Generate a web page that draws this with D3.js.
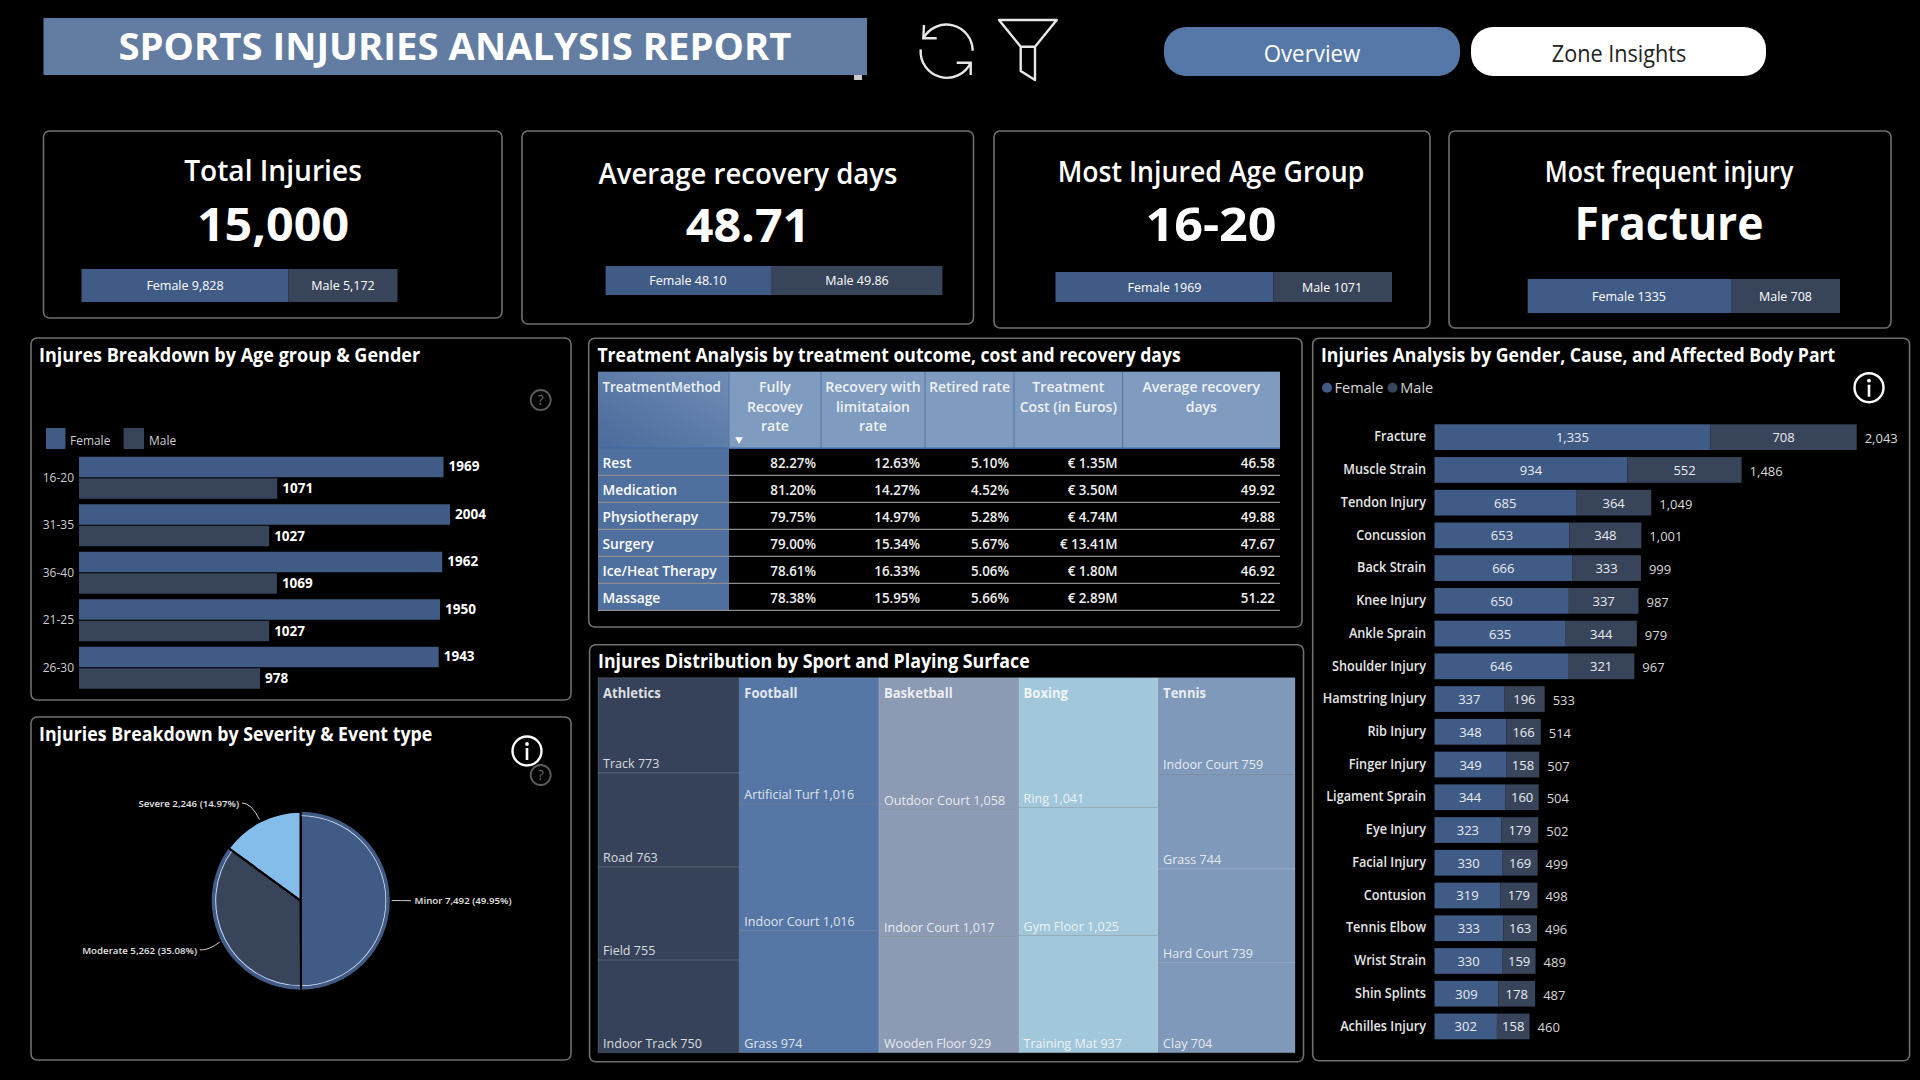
<!DOCTYPE html>
<html>
<head>
<meta charset="utf-8">
<title>Sports Injuries Analysis Report</title>
<script src="https://cdn.jsdelivr.net/npm/d3@7"></script>
<style>
html, body { margin: 0; background: #000; overflow: hidden; }
svg { display: block; }
text { font-family: "Open Sans", "Noto Sans", sans-serif; fill: #fff; }
</style>
</head>
<body>
<svg id="chart" width="1920" height="1080"></svg>
<script>
// DATA
var genders = ['Female', 'Male'];

var kpiTitles = ['Total Injuries', 'Average recovery days', 'Most Injured Age Group', 'Most frequent injury'];
var kpiValues = ['15,000', '48.71', '16-20', 'Fracture'];
var kpiFemale = [9828, 48.10, 1969, 1335];
var kpiMale = [5172, 49.86, 1071, 708];
var kpiLabelFemale = ['Female 9,828', 'Female 48.10', 'Female 1969', 'Female 1335'];
var kpiLabelMale = ['Male 5,172', 'Male 49.86', 'Male 1071', 'Male 708'];

var ageGroups = ['16-20', '31-35', '36-40', '21-25', '26-30'];
var ageFemale = [1969, 2004, 1962, 1950, 1943];
var ageMale = [1071, 1027, 1069, 1027, 978];

var severityNames = ['Minor', 'Moderate', 'Severe'];
var severityValues = [7492, 5262, 2246];
var severityShare = ['49.95%', '35.08%', '14.97%'];

var treatmentColumns = ['TreatmentMethod', 'Fully|Recovey|rate', 'Recovery with|limitataion|rate', 'Retired rate', 'Treatment|Cost (in Euros)', 'Average recovery|days'];
var treatmentMethods = ['Rest', 'Medication', 'Physiotherapy', 'Surgery', 'Ice/Heat Therapy', 'Massage'];
var fullyRecovered = [82.27, 81.20, 79.75, 79.00, 78.61, 78.38];
var limitedRecovery = [12.63, 14.27, 14.97, 15.34, 16.33, 15.95];
var retiredRate = [5.10, 4.52, 5.28, 5.67, 5.06, 5.66];
var treatmentCost = [1.35, 3.50, 4.74, 13.41, 1.80, 2.89];
var recoveryDays = [46.58, 49.92, 49.88, 47.67, 46.92, 51.22];

var sports = ['Athletics', 'Football', 'Basketball', 'Boxing', 'Tennis'];
var surfaces = [
	['Track', 'Road', 'Field', 'Indoor Track'],
	['Artificial Turf', 'Indoor Court', 'Grass'],
	['Outdoor Court', 'Indoor Court', 'Wooden Floor'],
	['Ring', 'Gym Floor', 'Training Mat'],
	['Indoor Court', 'Grass', 'Hard Court', 'Clay']
];
var surfaceValues = [
	[773, 763, 755, 750],
	[1016, 1016, 974],
	[1058, 1017, 929],
	[1041, 1025, 937],
	[759, 744, 739, 704]
];

var bodyParts = ['Fracture', 'Muscle Strain', 'Tendon Injury', 'Concussion', 'Back Strain', 'Knee Injury', 'Ankle Sprain', 'Shoulder Injury', 'Hamstring Injury', 'Rib Injury', 'Finger Injury', 'Ligament Sprain', 'Eye Injury', 'Facial Injury', 'Contusion', 'Tennis Elbow', 'Wrist Strain', 'Shin Splints', 'Achilles Injury'];
var bodyFemale = [1335, 934, 685, 653, 666, 650, 635, 646, 337, 348, 349, 344, 323, 330, 319, 333, 330, 309, 302];
var bodyMale = [708, 552, 364, 348, 333, 337, 344, 321, 196, 166, 158, 160, 179, 169, 179, 163, 159, 178, 158];

// COLOURS
var FEMALE = '#415b87';
var MALE = '#38445a';
var BORDER = '#6f6f6f';
var sportColors = ['#364259', '#5677a6', '#8c9ab4', '#a2c6da', '#7f99bb'];

var svg = d3.select('#chart');
var fmtInt = d3.format(',');

// the report font is narrower than anything installed - squeeze text sideways
function fit(sel, k) {
	sel.each(function () {
		var len = this.getComputedTextLength();
		d3.select(this).attr('textLength', len * k).attr('lengthAdjust', 'spacingAndGlyphs');
	});
	return sel;
}

function panel(x, y, x2, y2) {
	svg.append('rect')
		.attr('x', x).attr('y', y)
		.attr('width', x2 - x).attr('height', y2 - y)
		.attr('rx', 6)
		.attr('fill', '#000')
		.attr('stroke', BORDER)
		.attr('stroke-width', 1.6);
}

function panelTitle(txt, x, y, k) {
	fit(svg.append('text')
		.attr('x', x).attr('y', y)
		.attr('font-size', 19.5)
		.attr('font-weight', 700)
		.text(txt), k);
}

function helpIcon(cx, cy) {
	var g = svg.append('g').attr('transform', 'translate(' + cx + ',' + cy + ')');
	g.append('circle').attr('r', 10).attr('fill', 'none').attr('stroke', '#5c5c5c').attr('stroke-width', 1.8);
	g.append('text').attr('text-anchor', 'middle').attr('y', 5).attr('font-size', 14).style('fill', '#6a6a6a').text('?');
}

function infoIcon(cx, cy) {
	var g = svg.append('g').attr('transform', 'translate(' + cx + ',' + cy + ')');
	g.append('circle').attr('r', 14.5).attr('fill', '#000').attr('stroke', '#fff').attr('stroke-width', 2.4);
	g.append('circle').attr('cy', -7).attr('r', 1.9).attr('fill', '#fff');
	g.append('rect').attr('x', -1.3).attr('y', -3).attr('width', 2.6).attr('height', 12).attr('fill', '#fff');
}

// HEADER
svg.append('rect').attr('x', 43.5).attr('y', 18).attr('width', 823.5).attr('height', 57).attr('fill', '#637ca2');
svg.append('rect').attr('x', 854).attr('y', 75).attr('width', 8).attr('height', 5).attr('fill', '#c9c9c9');
svg.append('text')
	.attr('x', 455).attr('y', 60)
	.attr('text-anchor', 'middle')
	.attr('font-size', 38.3)
	.attr('font-weight', 700)
	.text('SPORTS INJURIES ANALYSIS REPORT');

// refresh icon
var refresh = svg.append('g').attr('transform', 'translate(946.7,50)').attr('fill', 'none').attr('stroke', '#e8e8e8').attr('stroke-width', 2.4);
refresh.append('path').attr('d', 'M-23.4,-11.7 A26.3,26.3 0 0 1 26,0.7');
refresh.append('path').attr('d', 'M-26,-0.7 A26.3,26.3 0 0 0 24,12.7');
refresh.append('path').attr('d', 'M-22.7,-25 L-23.4,-11.7 H-10');
refresh.append('path').attr('d', 'M10,12.7 H24 V25');

// funnel icon
svg.append('path')
	.attr('d', 'M999,20 H1056.7 L1035,46.7 H1020.7 Z M1020.7,46.7 V71 L1035,80 V46.7')
	.attr('fill', 'none').attr('stroke', '#e8e8e8').attr('stroke-width', 2.4).attr('stroke-linejoin', 'round');

// page buttons
svg.append('rect').attr('x', 1164).attr('y', 27).attr('width', 296).attr('height', 49).attr('rx', 22).attr('fill', '#5578a8');
fit(svg.append('text').attr('x', 1312).attr('y', 61.5).attr('text-anchor', 'middle').attr('font-size', 23).text('Overview'), 0.97);
svg.append('rect').attr('x', 1471).attr('y', 27).attr('width', 295).attr('height', 49).attr('rx', 22).attr('fill', '#fff');
fit(svg.append('text').attr('x', 1619).attr('y', 61.5).attr('text-anchor', 'middle').attr('font-size', 23).style('fill', '#222').text('Zone Insights'), 0.94);

// KPI CARDS
var kpiFrames = [
	{x: 43.5, x2: 502, y2: 318, cx: 273, ty: 181, vy: 241, bx: 81.5, bx2: 397.5, by: 269, by2: 302, lf: 185, lm: 343, tk: 0.97, vk: 1.03},
	{x: 522, x2: 973.5, y2: 324, cx: 748, ty: 184, vy: 242, bx: 605.6, bx2: 942.4, by: 266, by2: 295, lf: 688, lm: 857, tk: 0.95, vk: 1.03},
	{x: 994, x2: 1430, y2: 328, cx: 1211, ty: 182, vy: 241, bx: 1055.5, bx2: 1392, by: 272, by2: 302, lf: 1164.5, lm: 1332, tk: 0.92, vk: 1.07},
	{x: 1449, x2: 1891, y2: 328, cx: 1669, ty: 182, vy: 240, bx: 1527.7, bx2: 1840, by: 279, by2: 313, lf: 1629, lm: 1785.5, tk: 0.86, vk: 0.945}
];
kpiFrames.forEach(function (f, i) {
	panel(f.x, 131, f.x2, f.y2);
	fit(svg.append('text').attr('x', f.cx).attr('y', f.ty).attr('text-anchor', 'middle').attr('font-size', 29).attr('font-weight', 600).text(kpiTitles[i]), f.tk);
	fit(svg.append('text').attr('x', f.cx).attr('y', f.vy).attr('text-anchor', 'middle').attr('font-size', 47).attr('font-weight', 700).text(kpiValues[i]), f.vk);
	// split bar - share of female / male, per card scale
	var x = d3.scaleLinear().domain([0, kpiFemale[i] + kpiMale[i]]).range([f.bx, f.bx2]);
	svg.append('rect').attr('x', x(0)).attr('y', f.by).attr('width', x(kpiFemale[i]) - x(0)).attr('height', f.by2 - f.by).attr('fill', FEMALE);
	svg.append('rect').attr('x', x(kpiFemale[i])).attr('y', f.by).attr('width', x(kpiFemale[i] + kpiMale[i]) - x(kpiFemale[i])).attr('height', f.by2 - f.by).attr('fill', MALE);
	var my = (f.by + f.by2) / 2 + 4.5;
	svg.append('text').attr('x', f.lf).attr('y', my).attr('text-anchor', 'middle').attr('font-size', 12.5).text(kpiLabelFemale[i]);
	svg.append('text').attr('x', f.lm).attr('y', my).attr('text-anchor', 'middle').attr('font-size', 12.5).text(kpiLabelMale[i]);
});

// AGE GROUP BARS
panel(31, 338, 571, 700);
panelTitle('Injures Breakdown by Age group & Gender', 39, 362, 0.925);
helpIcon(540.7, 400);
svg.append('rect').attr('x', 46).attr('y', 428).attr('width', 19.5).attr('height', 21).attr('fill', FEMALE);
fit(svg.append('text').attr('x', 70).attr('y', 444.5).attr('font-size', 13).style('fill', '#cfcfcf').text('Female'), 0.92);
svg.append('rect').attr('x', 123.6).attr('y', 428).attr('width', 20.4).attr('height', 21).attr('fill', MALE);
fit(svg.append('text').attr('x', 149).attr('y', 444.5).attr('font-size', 13).style('fill', '#cfcfcf').text('Male'), 0.92);

var ageX = d3.scaleLinear().domain([0, 2004]).range([79, 450]);
var ageY = d3.scaleBand().domain(ageGroups).range([454, 691.5]).paddingInner(0.116).paddingOuter(0.058);
var ageGender = d3.scaleBand().domain(genders).range([0, ageY.bandwidth()]).paddingInner(0.048);
var ageAxis = svg.append('g').attr('transform', 'translate(79,0)')
	.call(d3.axisLeft(ageY).tickSize(0).tickPadding(5));
ageAxis.select('.domain').remove();
ageAxis.selectAll('text').attr('font-size', 12).style('font-family', '"Open Sans"').style('fill', '#cfcfcf');

[ageFemale, ageMale].forEach(function (vals, s) {
	var gen = genders[s];
	var layer = svg.append('g');
	layer.selectAll('rect').data(vals).join('rect')
		.attr('x', ageX(0))
		.attr('y', function (d, i) { return ageY(ageGroups[i]) + ageGender(gen); })
		.attr('width', function (d) { return ageX(d) - ageX(0); })
		.attr('height', ageGender.bandwidth())
		.attr('fill', s === 0 ? FEMALE : MALE);
	layer.selectAll('text').data(vals).join('text')
		.attr('x', function (d) { return ageX(d) + 5; })
		.attr('y', function (d, i) { return ageY(ageGroups[i]) + ageGender(gen) + ageGender.bandwidth() / 2 + 4.5; })
		.attr('font-size', 13.5)
		.attr('font-weight', 700)
		.text(function (d) { return d; });
});

// SEVERITY PIE
panel(31, 717, 571, 1060);
panelTitle('Injuries Breakdown by Severity & Event type', 39, 741, 0.912);
var pieFill = ['#415b87', '#38445a', '#85bdea'];
var pieCx = 300.7, pieCy = 900.7, pieR = 89;
var pieGroup = svg.append('g').attr('transform', 'translate(' + pieCx + ',' + pieCy + ')');
var pieData = d3.pie().sort(null)(severityValues);
var slice = d3.arc().innerRadius(0).outerRadius(pieR);
pieGroup.selectAll('path.slice').data(pieData).join('path')
	.attr('class', 'slice')
	.attr('d', slice)
	.attr('fill', function (d, i) { return pieFill[i]; })
	.attr('stroke', '#000')
	.attr('stroke-width', 2);
// bluish rim and thin pale ring, on the two big slices only
var rimArc = d3.arc().innerRadius(pieR - 5).outerRadius(pieR);
pieGroup.selectAll('path.rim').data(pieData.slice(0, 2)).join('path')
	.attr('class', 'rim')
	.attr('d', rimArc)
	.attr('fill', '#415b87');
var ringArc = d3.arc().innerRadius(pieR - 4.4).outerRadius(pieR - 3.6);
pieGroup.selectAll('path.ring').data(pieData.slice(0, 2)).join('path')
	.attr('class', 'ring')
	.attr('d', ringArc)
	.attr('fill', '#dfe6f0');
// black split line over the rim
pieGroup.selectAll('line').data(pieData).join('line')
	.attr('x1', 0).attr('y1', 0)
	.attr('x2', function (d) { return pieR * Math.sin(d.startAngle); })
	.attr('y2', function (d) { return -pieR * Math.cos(d.startAngle); })
	.attr('stroke', '#000').attr('stroke-width', 2);

var labelEnd = [[411, 900.7], [200, 950], [242, 803]];
var leaderStart = d3.arc().innerRadius(pieR + 2).outerRadius(pieR + 2);
pieData.forEach(function (d, i) {
	var p = leaderStart.centroid(d);
	var sx = pieCx + p[0], sy = pieCy + p[1];
	var end = labelEnd[i];
	var ctrl = i === 0 ? [(sx + end[0]) / 2, sy] : (i === 1 ? [(sx + end[0]) / 2, end[1]] : [sx - 8, end[1]]);
	svg.append('path')
		.attr('d', 'M' + sx + ',' + sy + 'Q' + ctrl[0] + ',' + ctrl[1] + ' ' + end[0] + ',' + end[1])
		.attr('fill', 'none').attr('stroke', '#cfcfcf').attr('stroke-width', 1);
	var leftSide = i !== 0;
	svg.append('text')
		.attr('x', leftSide ? end[0] - 3 : end[0] + 3.5)
		.attr('y', end[1] + 3.5)
		.attr('text-anchor', leftSide ? 'end' : 'start')
		.attr('font-size', 9.7)
		.attr('font-weight', 600)
		.style('fill', '#e4e4e4')
		.text(severityNames[i] + ' ' + fmtInt(severityValues[i]) + ' (' + severityShare[i] + ')');
});
helpIcon(540.7, 775);
infoIcon(527, 751);

// TREATMENT TABLE
panel(588.7, 338.3, 1302, 627);
panelTitle('Treatment Analysis by treatment outcome, cost and recovery days', 597.4, 361.7, 0.9);
var colEdges = [598, 729, 821, 925, 1014, 1122.6, 1280];
var rowY = d3.scaleBand().domain(treatmentMethods).range([448.3, 610.3]);
var defs = svg.append('defs');
var headGrad = defs.append('linearGradient').attr('id', 'headFirst').attr('x1', 0).attr('x2', 1).attr('y1', 1).attr('y2', 0);
headGrad.append('stop').attr('offset', 0).attr('stop-color', '#4c6a9b');
headGrad.append('stop').attr('offset', 1).attr('stop-color', '#6f8db5');

treatmentColumns.forEach(function (c, i) {
	svg.append('rect')
		.attr('x', colEdges[i]).attr('y', 371.7)
		.attr('width', colEdges[i + 1] - colEdges[i]).attr('height', 76.6)
		.attr('fill', i === 0 ? 'url(#headFirst)' : '#7f9cc0');
	if (i > 0) {
		svg.append('line').attr('x1', colEdges[i]).attr('x2', colEdges[i]).attr('y1', 371.7).attr('y2', 448.3).attr('stroke', '#56749f').attr('stroke-width', 1);
	}
	c.split('|').forEach(function (line, k) {
		fit(svg.append('text')
			.attr('x', i === 0 ? colEdges[0] + 4.5 : (colEdges[i] + colEdges[i + 1]) / 2)
			.attr('y', 392 + k * 19.7)
			.attr('text-anchor', i === 0 ? 'start' : 'middle')
			.attr('font-size', 14.5)
			.attr('font-weight', 600)
			.style('fill', '#eef2f7')
			.text(line), i === 0 ? 0.92 : 0.97);
	});
});
svg.append('line').attr('x1', 598).attr('x2', 1280).attr('y1', 448.3).attr('y2', 448.3).attr('stroke', '#3f6aa8').attr('stroke-width', 1.5);
svg.append('path').attr('d', d3.symbol().type(d3.symbolTriangle).size(26)()).attr('transform', 'translate(739,439.5) rotate(180)').attr('fill', '#fff');

svg.append('g').selectAll('rect').data(treatmentMethods).join('rect')
	.attr('x', colEdges[0]).attr('y', function (d) { return rowY(d); })
	.attr('width', colEdges[1] - colEdges[0]).attr('height', rowY.bandwidth())
	.attr('fill', '#4f6f9f');
svg.append('g').selectAll('line').data(treatmentMethods).join('line')
	.attr('x1', colEdges[0]).attr('x2', colEdges[6])
	.attr('y1', function (d) { return rowY(d) + rowY.bandwidth(); })
	.attr('y2', function (d) { return rowY(d) + rowY.bandwidth(); })
	.attr('stroke', '#8d8d8d').attr('stroke-width', 1.3);
fit(svg.append('g').selectAll('text').data(treatmentMethods).join('text')
	.attr('x', colEdges[0] + 4.5)
	.attr('y', function (d) { return rowY(d) + 19.5; })
	.attr('font-size', 15)
	.attr('font-weight', 600)
	.text(function (d) { return d; }), 0.92);

var pct = function (v) { return d3.format('.2f')(v) + '%'; };
var num = d3.format('.2f');
var euro = function (v) { return '€ ' + d3.format('.2f')(v) + 'M'; };
[[fullyRecovered, pct], [limitedRecovery, pct], [retiredRate, pct], [treatmentCost, euro], [recoveryDays, num]].forEach(function (col, c) {
	fit(svg.append('g').selectAll('text').data(col[0]).join('text')
		.attr('x', colEdges[c + 2] - 5)
		.attr('y', function (d, i) { return rowY(treatmentMethods[i]) + 19.5; })
		.attr('text-anchor', 'end')
		.attr('font-size', 15)
		.attr('font-weight', 600)
		.style('fill', '#f0f0f0')
		.text(col[1]), 0.89);
});

// SPORT TREEMAP
panel(589.6, 644.7, 1303.5, 1061.7);
panelTitle('Injures Distribution by Sport and Playing Surface', 598, 668, 0.912);
var treeData = {
	name: 'root',
	children: sports.map(function (s, i) {
		return {
			name: s,
			children: surfaces[i].map(function (n, k) { return { name: n, value: surfaceValues[i][k] }; })
		};
	})
};
var root = d3.hierarchy(treeData).sum(function (d) { return d.value; });
d3.treemap().tile(d3.treemapSliceDice).size([697, 375])(root);
var tree = svg.append('g').attr('transform', 'translate(598,677.7)');
var leaves = tree.selectAll('g').data(root.leaves()).join('g')
	.attr('transform', function (d) { return 'translate(' + d.x0 + ',' + d.y0 + ')'; });
leaves.append('rect')
	.attr('width', function (d) { return d.x1 - d.x0; })
	.attr('height', function (d) { return d.y1 - d.y0; })
	.attr('fill', function (d) { return sportColors[sports.indexOf(d.parent.data.name)]; })
	.attr('stroke', 'rgba(255,255,255,0.14)')
	.attr('stroke-width', 1);
fit(leaves.append('text')
	.attr('x', 5)
	.attr('y', function (d) { return d.y1 - d.y0 - 5; })
	.attr('font-size', 13.5)
	.style('fill', 'rgba(255,255,255,0.82)')
	.text(function (d) { return d.data.name + ' ' + fmtInt(d.value); }), 0.93);
fit(tree.selectAll('text.sport').data(root.children).join('text')
	.attr('class', 'sport')
	.attr('x', function (d) { return d.x0 + 5; })
	.attr('y', 20)
	.attr('font-size', 15)
	.attr('font-weight', 700)
	.style('fill', 'rgba(255,255,255,0.85)')
	.text(function (d) { return d.data.name; }), 0.87);

// BODY PART STACKED BARS
panel(1312.7, 338.3, 1909.6, 1060.7);
panelTitle('Injuries Analysis by Gender, Cause, and Affected Body Part', 1321, 361.7, 0.905);
svg.append('circle').attr('cx', 1327).attr('cy', 387.7).attr('r', 5).attr('fill', FEMALE);
svg.append('text').attr('x', 1334.5).attr('y', 393).attr('font-size', 14.5).style('fill', '#d8d8d8').text('Female');
svg.append('circle').attr('cx', 1392.5).attr('cy', 387.7).attr('r', 5).attr('fill', MALE);
svg.append('text').attr('x', 1400.3).attr('y', 393).attr('font-size', 14.5).style('fill', '#d8d8d8').text('Male');
infoIcon(1869, 387.7);

var bodyX = d3.scaleLinear().domain([0, 2043]).range([1434.5, 1856.7]);
var bodyY = d3.scaleBand().domain(bodyParts).range([420.8, 1042.8]).paddingInner(0.214).paddingOuter(0.107);
var bodyAxis = svg.append('g').attr('transform', 'translate(1434.5,0)')
	.call(d3.axisLeft(bodyY).tickSize(0).tickPadding(8.5));
bodyAxis.select('.domain').remove();
fit(bodyAxis.selectAll('text').attr('font-size', 14).attr('font-weight', 600).style('font-family', '"Open Sans"').style('fill', '#e6e6e6').attr('dy', '0.3em'), 0.905);

var bodyRows = svg.append('g').selectAll('g').data(bodyParts).join('g');
bodyRows.append('rect')
	.attr('x', bodyX(0))
	.attr('y', function (d) { return bodyY(d); })
	.attr('width', function (d, i) { return bodyX(bodyFemale[i]) - bodyX(0); })
	.attr('height', bodyY.bandwidth())
	.attr('fill', FEMALE);
bodyRows.append('rect')
	.attr('x', function (d, i) { return bodyX(bodyFemale[i]); })
	.attr('y', function (d) { return bodyY(d); })
	.attr('width', function (d, i) { return bodyX(bodyFemale[i] + bodyMale[i]) - bodyX(bodyFemale[i]); })
	.attr('height', bodyY.bandwidth())
	.attr('fill', MALE);
bodyRows.append('text')
	.attr('x', function (d, i) { return bodyX(bodyFemale[i] / 2); })
	.attr('y', function (d) { return bodyY(d) + bodyY.bandwidth() / 2 + 5; })
	.attr('text-anchor', 'middle').attr('font-size', 13).style('fill', '#e8ecf2')
	.text(function (d, i) { return fmtInt(bodyFemale[i]); });
bodyRows.append('text')
	.attr('x', function (d, i) { return bodyX(bodyFemale[i] + bodyMale[i] / 2); })
	.attr('y', function (d) { return bodyY(d) + bodyY.bandwidth() / 2 + 5; })
	.attr('text-anchor', 'middle').attr('font-size', 13).style('fill', '#e8ecf2')
	.text(function (d, i) { return fmtInt(bodyMale[i]); });
bodyRows.append('text')
	.attr('x', function (d, i) { return bodyX(bodyFemale[i] + bodyMale[i]) + 8; })
	.attr('y', function (d) { return bodyY(d) + bodyY.bandwidth() / 2 + 6; })
	.attr('font-size', 13).style('fill', '#d8d8d8')
	.text(function (d, i) { return fmtInt(bodyFemale[i] + bodyMale[i]); });
</script>
</body>
</html>
